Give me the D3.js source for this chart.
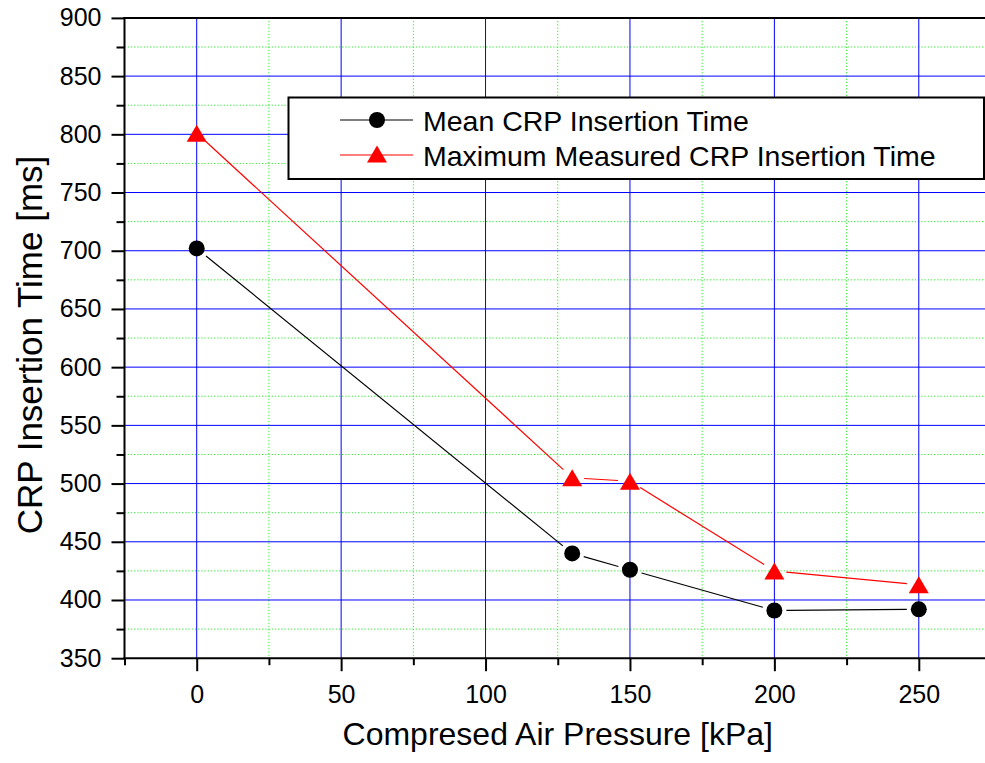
<!DOCTYPE html>
<html>
<head>
<meta charset="utf-8">
<script src="https://cdn.jsdelivr.net/npm/d3@7/dist/d3.min.js"></script>
<style>
  html, body { margin: 0; padding: 0; background: #fff; }
  svg { display: block; font-family: Arial, "Liberation Sans", Helvetica, sans-serif; }
</style>
</head>
<body>
<svg id="chart" width="985" height="763"></svg>
<script>
// ---- data ----
const pressures = [0, 130, 150, 200, 250];
const meanTime = [702, 440, 426, 391, 392];
const maxTime = [801, 505, 502, 425, 413];
const xTicks = [0, 50, 100, 150, 200, 250];
const yTicks = [350, 400, 450, 500, 550, 600, 650, 700, 750, 800, 850, 900];
const seriesNames = ["Mean CRP Insertion Time", "Maximum Measured CRP Insertion Time"];
const xTitle = "Compresed Air Pressure [kPa]";
const yTitle = "CRP Insertion Time [ms]";

const svg = d3.select("#chart");
const L = 124.5, R = 991, T = 17.9, B = 658.2;
const x = d3.scaleLinear().domain([-25, 275]).range([L, R]);
const y = d3.scaleLinear().domain([350, 900]).range([B, T]);

const xMinor = d3.range(-25, 276, 25);
const yMinor = d3.range(350, 901, 25);
const xMinorOnly = xMinor.filter(v => !xTicks.includes(v));
const yMinorOnly = yMinor.filter(v => !yTicks.includes(v));

const g = svg.append("g");

// minor grid (green dotted)
g.selectAll(".gxm").data(xMinorOnly.filter(v => v > -25)).join("line")
  .attr("x1", d => x(d)).attr("x2", d => x(d)).attr("y1", T).attr("y2", B)
  .attr("stroke", "#22ee22").attr("stroke-width", 1).attr("stroke-dasharray", "1.2,2");
g.selectAll(".gym").data(yMinorOnly).join("line")
  .attr("x1", L).attr("x2", R).attr("y1", d => y(d)).attr("y2", d => y(d))
  .attr("stroke", "#22ee22").attr("stroke-width", 1).attr("stroke-dasharray", "1.2,2");

// major grid (blue)
g.selectAll(".gx").data(xTicks).join("line")
  .attr("x1", d => x(d)).attr("x2", d => x(d)).attr("y1", T).attr("y2", B)
  .attr("stroke", "#0000ff").attr("stroke-width", 1);
g.selectAll(".gy").data(yTicks.filter(v => v > 350 && v < 900)).join("line")
  .attr("x1", L).attr("x2", R).attr("y1", d => y(d)).attr("y2", d => y(d))
  .attr("stroke", "#0000ff").attr("stroke-width", 1);

// axes
const xAxis = d3.axisBottom(x).tickValues(xTicks).tickSize(13).tickPadding(14).tickFormat(d3.format("d"));
const xAxisMinor = d3.axisBottom(x).tickValues(xMinorOnly).tickSize(7).tickFormat("");
const yAxis = d3.axisLeft(y).tickValues(yTicks).tickSize(13).tickPadding(10).tickFormat(d3.format("d"));
const yAxisMinor = d3.axisLeft(y).tickValues(yMinorOnly).tickSize(8).tickFormat("");

function styleAxis(sel) {
  sel.select(".domain").remove();
  sel.selectAll(".tick line").attr("stroke", "#000").attr("stroke-width", 2);
  sel.selectAll(".tick text").attr("fill", "#000").attr("font-size", 25)
    .attr("font-family", "Arial, 'Liberation Sans', sans-serif");
}
svg.append("g").attr("transform", `translate(0,${B})`).call(xAxisMinor).call(styleAxis);
svg.append("g").attr("transform", `translate(0,${B})`).call(xAxis).call(styleAxis);
svg.append("g").attr("transform", `translate(${L},0)`).call(yAxisMinor).call(styleAxis);
svg.append("g").attr("transform", `translate(${L},0)`).call(yAxis).call(styleAxis);

// frame lines
svg.append("line").attr("x1", L - 1).attr("x2", R).attr("y1", B).attr("y2", B).attr("stroke", "#000").attr("stroke-width", 2);
svg.append("line").attr("x1", L).attr("x2", L).attr("y1", T - 1).attr("y2", B + 1).attr("stroke", "#000").attr("stroke-width", 2);
svg.append("line").attr("x1", L - 1).attr("x2", R).attr("y1", T).attr("y2", T).attr("stroke", "#000").attr("stroke-width", 2);

// series lines with gaps near markers
function gappedSegments(xs, ys, gap) {
  const segs = [];
  for (let i = 0; i < xs.length - 1; i++) {
    const x1 = x(xs[i]), y1 = y(ys[i]), x2 = x(xs[i + 1]), y2 = y(ys[i + 1]);
    const dx = x2 - x1, dy = y2 - y1, len = Math.hypot(dx, dy);
    const ux = dx / len, uy = dy / len;
    segs.push([x1 + ux * gap, y1 + uy * gap, x2 - ux * gap, y2 - uy * gap]);
  }
  return segs;
}
function drawSeries(vals, color) {
  svg.append("g").selectAll("line").data(gappedSegments(pressures, vals, 12)).join("line")
    .attr("x1", d => d[0]).attr("y1", d => d[1]).attr("x2", d => d[2]).attr("y2", d => d[3])
    .attr("stroke", color).attr("stroke-width", 1.2);
}
drawSeries(meanTime, "#000");
drawSeries(maxTime, "#ff0000");

function triPath(cx, cy) {
  const w = 20, h = 17;
  return `M${cx},${cy - h / 2}L${cx + w / 2},${cy + h / 2}L${cx - w / 2},${cy + h / 2}Z`;
}

svg.append("g").selectAll("circle").data(pressures.map((p, i) => [p, meanTime[i]])).join("circle")
  .attr("cx", d => x(d[0])).attr("cy", d => y(d[1])).attr("r", 8).attr("fill", "#000");
svg.append("g").selectAll("path").data(pressures.map((p, i) => [p, maxTime[i]])).join("path")
  .attr("d", d => triPath(x(d[0]), y(d[1]))).attr("fill", "#ff0000");

// legend
const lg = svg.append("g");
lg.append("rect").attr("x", 288.5).attr("y", 97.5).attr("width", 695.5).attr("height", 81.5)
  .attr("fill", "#fff").attr("stroke", "#000").attr("stroke-width", 2);
const rows = [120, 155];
lg.append("line").attr("x1", 340).attr("x2", 413).attr("y1", rows[0]).attr("y2", rows[0]).attr("stroke", "#000").attr("stroke-width", 1.2);
lg.append("circle").attr("cx", 377).attr("cy", rows[0]).attr("r", 8).attr("fill", "#000");
lg.append("line").attr("x1", 340).attr("x2", 413).attr("y1", rows[1]).attr("y2", rows[1]).attr("stroke", "#ff0000").attr("stroke-width", 1.2);
lg.append("path").attr("d", triPath(377, rows[1] - 1)).attr("fill", "#ff0000");
lg.selectAll("text").data(seriesNames).join("text")
  .attr("x", 423).attr("y", (d, i) => rows[i] + 10.5)
  .attr("font-size", 28.5).attr("fill", "#000").text(d => d);

// axis titles
svg.append("text").attr("x", (L + R) / 2).attr("y", 745).attr("text-anchor", "middle")
  .attr("font-size", 32).attr("fill", "#000").text(xTitle);
svg.append("text").attr("transform", `translate(42,345) rotate(-90)`)
  .attr("text-anchor", "middle").attr("font-size", 35).attr("fill", "#000").text(yTitle);
</script>
</body>
</html>
